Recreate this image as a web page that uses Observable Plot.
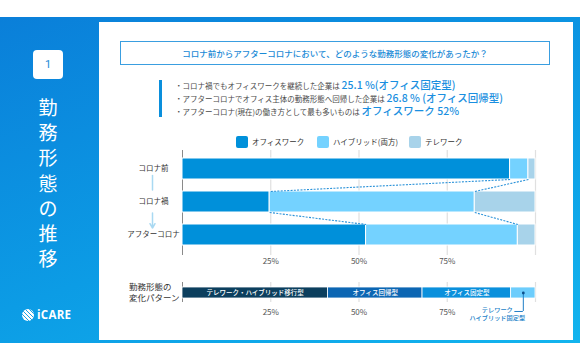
<!DOCTYPE html>
<html><head><meta charset="utf-8">
<script src="https://cdn.jsdelivr.net/npm/d3@7"></script>
<script src="https://cdn.jsdelivr.net/npm/@observablehq/plot@0.6"></script>
<style>
body{margin:0;width:580px;height:360px;position:relative;overflow:hidden;background:#fff;font-family:"Noto Sans CJK JP","Noto Sans",sans-serif;}
.abs{position:absolute;}
.vch{position:absolute;left:0;width:96px;text-align:center;color:#fff;font-size:19px;font-weight:400;line-height:25px;}
.bl{position:absolute;left:175px;height:14px;line-height:14px;font-size:7.5px;color:#4a4a4a;white-space:nowrap;}
.hl{font-size:10.5px;color:#1a8fe0;font-weight:500;}
.lg{position:absolute;top:136px;height:12px;line-height:12px;font-size:7.5px;color:#333;white-space:nowrap;}
.sw{display:inline-block;width:12px;height:12px;border-radius:2px;vertical-align:top;margin-right:4px;}
</style></head><body>
<div class="abs" style="left:0;top:17px;width:580px;height:326px;background:linear-gradient(160deg,#0a7fd9 0%,#0c9ce5 55%,#12b4ee 100%);"></div>
<div class="abs" style="left:99px;top:22px;width:474px;height:318px;background:#fff;"></div>
<div class="abs" style="left:33px;top:50px;width:30px;height:29px;background:#fff;border-radius:4px;text-align:center;line-height:29px;color:#1a8ad6;font-size:11px;font-family:Roboto,sans-serif;">1</div>
<div id="vtitle"></div>
<svg class="abs" style="left:21px;top:308px;" width="14" height="14" viewBox="0 0 14 14">
<defs><clipPath id="cc"><circle cx="7" cy="7" r="6"/></clipPath></defs>
<circle cx="7" cy="7" r="6" fill="#fff"/>
<g clip-path="url(#cc)" stroke="#1aa3e6" stroke-width="1"><line x1="0" y1="5" x2="9" y2="14"/><line x1="0" y1="1" x2="13" y2="14"/><line x1="3" y1="0" x2="14" y2="11"/><line x1="7" y1="0" x2="14" y2="7"/></g>
</svg>
<div class="abs" style="left:37px;top:307px;line-height:16px;color:#fff;font-size:11.5px;font-weight:700;font-family:'Open Sans',sans-serif;letter-spacing:0.3px;">iCARE</div>

<div class="abs" style="left:120px;top:41px;width:428px;height:22px;border:1.5px solid #3a9ee0;text-align:center;line-height:22px;color:#1a8ad6;font-size:8.5px;font-weight:500;">コロナ前からアフターコロナにおいて、どのような勤務形態の変化があったか？</div>
<div class="abs" style="left:159px;top:80px;width:3px;height:37px;background:#0a8fdc;"></div>
<div class="bl" style="top:78px;">・コロナ禍でもオフィスワークを継続した企業は <span class="hl">25.1 %(オフィス固定型)</span></div>
<div class="bl" style="top:91px;">・アフターコロナでオフィス主体の勤務形態へ回帰した企業は <span class="hl">26.8 % (オフィス回帰型)</span></div>
<div class="bl" style="top:104px;">・アフターコロナ(現在)の働き方として最も多いものは <span class="hl">オフィスワーク 52%</span></div>
<div id="legend"></div>
<div id="main" class="abs" style="left:100px;top:140px;"></div>
<div class="abs" style="left:129px;top:281px;font-size:8.5px;line-height:11px;color:#333;">勤務形態の<br>変化パターン</div>
<div id="pattern" class="abs" style="left:100px;top:275px;"></div>
<script>
const periods = ["コロナ前", "コロナ禍", "アフターコロナ"];
const categories = ["オフィスワーク", "ハイブリッド(両方)", "テレワーク"];
const officeShare = [92.8, 24.7, 52.0];
const hybridShare = [5.2, 58.1, 43.0];
const teleShare = [2.0, 17.2, 5.0];
const categoryColors = ["#0090da", "#74d2ff", "#a8d3ea"];
const patterns = ["テレワーク・ハイブリッド移行型", "オフィス回帰型", "オフィス固定型", "テレワーク\nハイブリッド固定型"];
const patternShare = [41.2, 26.8, 25.1, 6.9];
const patternColors = ["#0c3f5e", "#0c66b3", "#0a90dc", "#6dcdfc"];
const tickValues = [25, 50, 75];
const tickLabels = ["25%", "50%", "75%"];
const titleChars = ["勤", "務", "形", "態", "の", "推", "移"];

// vertical title
const vt = document.getElementById("vtitle");
titleChars.forEach((c, i) => {
  const d = document.createElement("div");
  d.className = "vch"; d.style.top = (94 + i * 25.2) + "px"; d.textContent = c; vt.appendChild(d);
});
// legend
const lgLeft = [236, 317, 409];
const lg = document.getElementById("legend");
categories.forEach((c, i) => {
  const d = document.createElement("div");
  d.className = "lg"; d.style.left = lgLeft[i] + "px";
  d.innerHTML = `<span class="sw" style="background:${categoryColors[i]}"></span>${c}`;
  lg.appendChild(d);
});

const shares = [officeShare, hybridShare, teleShare];
const H = 10.5 / 33;
const segs = [];
const bounds = [];
periods.forEach((p, i) => {
  let cum = 0; const b = [];
  categories.forEach((c, j) => {
    const v = shares[j][i];
    segs.push({row: i, cat: c, x1: cum, x2: cum + v});
    cum += v; b.push(cum);
  });
  bounds.push(b);
});
const links = [];
for (let i = 0; i < periods.length - 1; i++) {
  for (let k = 0; k < 2; k++) links.push({x1: bounds[i][k], y1: i + H, x2: bounds[i + 1][k], y2: i + 1 - H});
}
const fmt = d => tickLabels[tickValues.indexOf(d)];
const baseStyle = {fontFamily: "'Noto Sans CJK JP', sans-serif", fontSize: "8px", color: "#555", background: "transparent", overflow: "visible"};

const main = Plot.plot({
  width: 460, height: 130, marginLeft: 82, marginRight: 25, marginTop: 10, marginBottom: 15,
  x: {domain: [0, 100]},
  y: {domain: [-0.5, 2.5], range: [12, 111], axis: null},
  color: {domain: categories, range: categoryColors},
  style: baseStyle,
  marks: [
    Plot.ruleX([25, 50, 75, 100], {stroke: "#e0e0e0", strokeWidth: 1.2}),
    Plot.ruleX([0], {stroke: "#8a8a8a", strokeWidth: 1}),
    Plot.rect(segs, {x1: "x1", x2: "x2", y1: d => d.row - H, y2: d => d.row + H, fill: "cat", stroke: "white", strokeWidth: 1}),
    Plot.link(links, {x1: "x1", y1: "y1", x2: "x2", y2: "y2", stroke: "#2c93d9", strokeWidth: 1.1, strokeDasharray: "2,1.3"}),
    Plot.arrow([0], {x1: () => 0, x2: () => 0, y1: () => 0, y2: () => 1, dx: -30, insetStart: 6.5, insetEnd: 12, headLength: 0, stroke: "#a9d9f2", strokeWidth: 1.5}),
    Plot.arrow([0], {x1: () => 0, x2: () => 0, y1: () => 1, y2: () => 2, dx: -30, insetStart: 11, insetEnd: 7, headLength: 5, stroke: "#a9d9f2", strokeWidth: 1.5}),
    Plot.text(periods, {y: (d, i) => i, text: d => d, frameAnchor: "left", dx: -29, textAnchor: "middle", fontSize: 7.5, fill: "#333"}),
    Plot.axisX({ticks: tickValues, tickFormat: fmt, tickSize: 0, tickPadding: 3, fontSize: 8, fill: "#555"})
  ]
});
document.getElementById("main").appendChild(main);

let pc = 0;
const pSegs = patterns.map((p, i) => { const s = {name: p, x1: pc, x2: pc + patternShare[i]}; pc += patternShare[i]; return s; });
const last = pSegs[pSegs.length - 1];
const lastMid = (last.x1 + last.x2) / 2;
const leaderY = -1.18;
const pattern = Plot.plot({
  width: 460, height: 50, marginLeft: 82, marginRight: 25, marginTop: 7, marginBottom: 23,
  x: {domain: [0, 100]},
  y: {domain: [0, 1], range: [23, 12], axis: null},
  color: {domain: patterns, range: patternColors},
  style: baseStyle,
  marks: [
    Plot.ruleX([25, 50, 75, 100], {stroke: "#e0e0e0", strokeWidth: 1.2}),
    Plot.ruleX([0], {stroke: "#8a8a8a", strokeWidth: 1}),
    Plot.rect(pSegs, {x1: "x1", x2: "x2", y1: () => 0, y2: () => 1, fill: "name", stroke: "white", strokeWidth: 0.8}),
    Plot.text(pSegs.slice(0, 3), {x: d => (d.x1 + d.x2) / 2, y: () => 0.5, text: "name", fill: "white", fontSize: 6.5, fontWeight: 500}),
    Plot.ruleX([lastMid], {y1: () => 0.5, y2: () => leaderY, stroke: "#1f7ec6", strokeWidth: 1}),
    Plot.ruleY([leaderY], {x1: () => lastMid - 2.4, x2: () => lastMid, stroke: "#1f7ec6", strokeWidth: 1}),
    Plot.dot([lastMid], {x: d => d, y: () => 0.5, r: 1.4, fill: "#0c4f8a"}),
    Plot.text([last], {x: () => lastMid, y: () => 0.5, text: "name", dx: -26, dy: 20.5, textAnchor: "middle", lineAnchor: "middle", lineHeight: 1.3, fontSize: 6.2, fill: "#1a7fc8", fontWeight: 500}),
    Plot.axisX({ticks: tickValues, tickFormat: fmt, tickSize: 0, tickPadding: 7, fontSize: 8, fill: "#555"})
  ]
});
document.getElementById("pattern").appendChild(pattern);
</script>
</body></html>
